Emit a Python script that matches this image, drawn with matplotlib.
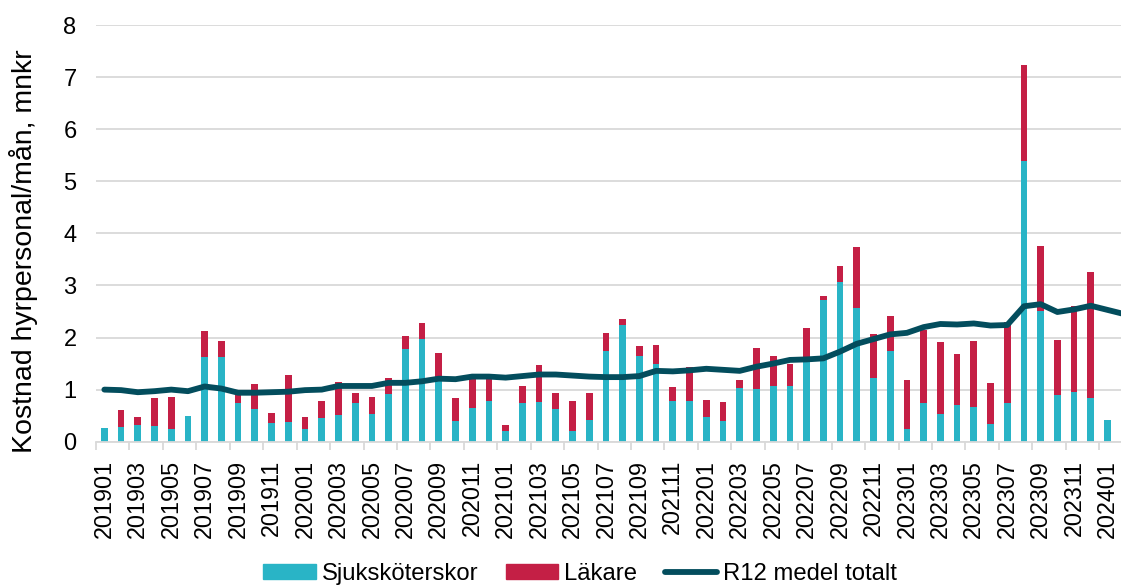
import numpy as np
import matplotlib
matplotlib.use('Agg')
import matplotlib.pyplot as plt
from matplotlib.patches import Patch
from matplotlib.lines import Line2D

plt.rcParams['font.family'] = ['Liberation Sans', 'DejaVu Sans']

# månader 201901 - 202402
manader = [f'{y}{m:02d}' for y in range(2019, 2025) for m in range(1, 13)][:62]

sjukskoterskor = [0.26, 0.29, 0.33, 0.31, 0.24, 0.49, 1.62, 1.63, 0.74, 0.62, 0.36, 0.37,
                  0.24, 0.45, 0.51, 0.75, 0.54, 0.91, 1.78, 1.97, 1.20, 0.40, 0.65, 0.78,
                  0.20, 0.75, 0.76, 0.63, 0.20, 0.41, 1.74, 2.24, 1.65, 1.49, 0.78, 0.79,
                  0.47, 0.40, 1.04, 1.01, 1.07, 1.07, 1.63, 2.72, 3.06, 2.56, 1.23, 1.74,
                  0.25, 0.74, 0.53, 0.70, 0.67, 0.34, 0.75, 5.39, 2.51, 0.90, 0.95, 0.83,
                  0.42, 0.75]

lakare = [-0.03, 0.32, 0.15, 0.52, 0.61, -0.03, 0.50, 0.30, 0.26, 0.49, 0.20, 0.91,
          0.24, 0.33, 0.64, 0.19, 0.32, 0.32, 0.25, 0.30, 0.50, 0.44, 0.55, 0.42,
          0.13, 0.31, 0.72, 0.30, 0.58, 0.52, 0.35, 0.11, 0.18, 0.37, 0.27, 0.64,
          0.33, 0.37, 0.15, 0.78, 0.57, 0.43, 0.55, 0.08, 0.32, 1.17, 0.84, 0.68,
          0.93, 1.41, 1.38, 0.98, 1.26, 0.78, 1.55, 1.85, 1.24, 1.05, 1.65, 2.42,
          -0.03, 0.25]

r12_totalt = [1.00, 0.99, 0.95, 0.97, 1.00, 0.97, 1.06, 1.02, 0.94, 0.94, 0.95, 0.96,
              0.99, 1.00, 1.07, 1.07, 1.07, 1.13, 1.13, 1.16, 1.21, 1.20, 1.25, 1.25,
              1.23, 1.26, 1.29, 1.29, 1.27, 1.25, 1.24, 1.24, 1.26, 1.36, 1.35, 1.37,
              1.40, 1.38, 1.36, 1.44, 1.50, 1.57, 1.58, 1.60, 1.73, 1.88, 1.97, 2.06,
              2.09, 2.20, 2.26, 2.25, 2.27, 2.23, 2.24, 2.60, 2.64, 2.49, 2.54, 2.61,
              2.53, 2.45]

teal = '#29b4c6'
rod = '#c41f45'
mork = '#034d5d'
grid = '#d9d9d9'

x = np.arange(len(manader))
sjuk = np.array(sjukskoterskor)
lak = np.array(lakare)
botten = np.where(lak >= 0, sjuk, 0)

fig = plt.figure(figsize=(11.21, 5.87), dpi=100)
# plotytan fortsätter utanför bilden till höger (beskuren som originalet)
ax = fig.add_axes([96 / 1121, 145.3 / 587, 62 * 16.72 / 1121, 416.7 / 587])

ax.bar(x, sjuk, width=0.4, color=teal, zorder=2)
ax.bar(x, lak, width=0.4, bottom=botten, color=rod, zorder=2)
ax.plot(x, r12_totalt, color=mork, lw=4.2, solid_capstyle='round', zorder=3)

ax.set_xlim(-0.5, len(manader) - 0.5)
ax.set_ylim(0, 8)
ax.set_yticks(range(0, 9))
ax.yaxis.grid(True, color=grid, lw=1.3, zorder=0)
ax.tick_params(axis='y', length=0, labelsize=17, pad=14)

ax.set_xticks(x[::2])
ax.set_xticklabels(manader[::2], rotation=90, fontsize=16.8)
ax.set_xticks(np.arange(-0.5, len(manader), 2), minor=True)
ax.tick_params(axis='x', which='major', length=0, pad=13)
ax.tick_params(axis='x', which='minor', length=6, color=grid, width=1.3)

for s in ['top', 'right', 'left']:
    ax.spines[s].set_visible(False)
ax.spines['bottom'].set_color(grid)
ax.spines['bottom'].set_linewidth(1.3)

fig.text(24 / 1121, 1 - 251 / 587, 'Kostnad hyrpersonal/mån, mnkr', rotation=90,
         fontsize=20.5, ha='center', va='center')

handles = [Patch(color=teal, label='Sjuksköterskor'),
           Patch(color=rod, label='Läkare'),
           Line2D([], [], color=mork, lw=4.2, solid_capstyle='round', label='R12 medel totalt')]
fig.legend(handles=handles, loc='center', bbox_to_anchor=(580 / 1121, 13 / 587), ncol=3,
           frameon=False, fontsize=17.2, handlelength=2.2, handleheight=0.55,
           handletextpad=0.25, columnspacing=1.15)

fig.savefig('out.png', dpi=100)
